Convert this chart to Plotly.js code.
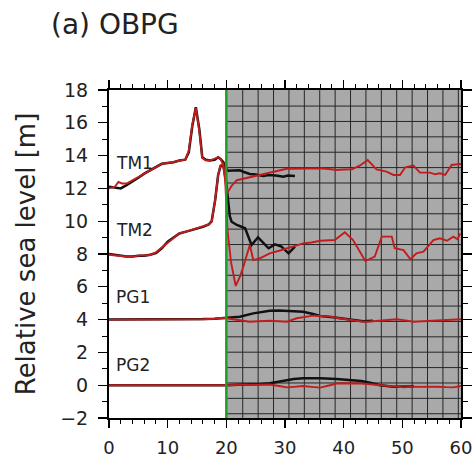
<!DOCTYPE html>
<html>
<head>
<meta charset="utf-8">
<script src="https://cdn.plot.ly/plotly-3.0.1.min.js"></script>
<style>html,body{margin:0;padding:0;background:#fff;}#chart{width:472px;height:458px;}</style>
</head>
<body>
<div id="chart"></div>
<script>
// ---- Data (time [min], relative sea level [m], offset per station) ----
var tm1ObsX = [0, 1, 2, 3, 4, 5, 6, 7, 8, 9, 10, 11, 12, 13, 13.6, 14.2, 14.8, 15.4, 15.9, 16.5, 17.2, 18.0, 18.6, 19.0, 19.5, 20.0, 20.3, 21, 22.3, 23, 24.0, 25, 26.3, 27, 28.0, 29, 29.7, 30.5, 31.7];
var tm1ObsY = [12.1, 12.05, 12.0, 12.2, 12.4, 12.65, 12.9, 13.1, 13.35, 13.5, 13.55, 13.6, 13.7, 13.75, 14.2, 15.8, 16.95, 15.6, 13.9, 13.75, 13.7, 13.75, 13.9, 13.8, 13.6, 13.2, 13.08, 13.1, 13.1, 13.0, 12.88, 12.85, 12.76, 12.8, 12.8, 12.75, 12.71, 12.78, 12.76];
var tm1SimX = [0, 1, 1.6, 2.2, 3, 4, 5, 6, 7, 8, 9, 10, 11, 12, 13, 13.6, 14.2, 14.8, 15.4, 15.9, 16.5, 17.2, 18.0, 18.6, 19.0, 19.4, 19.7, 20.0, 20.3, 21.0, 21.8, 23, 24.6, 26, 27.4, 29, 30.3, 31.5, 33.1, 34.5, 36.0, 37.5, 38.8, 40, 41.4, 42.8, 44.1, 45.6, 47.3, 48.5, 49.6, 50.5, 51.9, 53.0, 54.7, 55.6, 56.4, 57.3, 58.4, 59.8, 60];
var tm1SimY = [12.0, 12.1, 12.4, 12.3, 12.3, 12.5, 12.7, 12.9, 13.1, 13.35, 13.5, 13.55, 13.6, 13.7, 13.75, 14.3, 15.9, 16.9, 15.5, 13.85, 13.7, 13.7, 13.8, 13.9, 13.8, 13.5, 12.8, 12.0, 11.8, 12.2, 12.5, 12.6, 12.7, 12.85, 12.96, 13.1, 13.2, 13.2, 13.22, 13.2, 13.22, 13.18, 13.12, 13.15, 13.16, 13.4, 13.73, 13.16, 13.02, 12.82, 12.82, 13.29, 13.39, 12.96, 12.96, 12.86, 12.92, 12.82, 13.43, 13.49, 13.45];

var tm2ObsX = [0, 1, 2, 3, 4, 5, 6, 7, 8, 9, 10, 11, 12, 13, 14, 15, 16, 17, 17.5, 18.1, 18.6, 19.0, 19.5, 19.9, 20.3, 20.6, 20.9, 21.8, 23.2, 24.3, 25.4, 26.3, 27.2, 28.3, 29.4, 30.6, 31.7];
var tm2ObsY = [8.0, 7.95, 7.9, 7.85, 7.85, 7.9, 7.9, 7.95, 8.05, 8.35, 8.75, 9.0, 9.25, 9.35, 9.45, 9.55, 9.65, 9.8, 10.0, 11.3, 12.8, 13.35, 13.4, 12.6, 11.3, 10.3, 9.97, 9.77, 9.57, 8.55, 9.02, 8.69, 8.35, 8.59, 8.45, 8.04, 8.45];
var tm2SimX = [0, 1, 2, 3, 4, 5, 6, 7, 8, 9, 10, 11, 12, 13, 14, 15, 16, 17, 17.5, 18.1, 18.6, 19.0, 19.5, 19.8, 20.0, 20.2, 20.8, 21.6, 22.3, 22.9, 24.0, 24.6, 25.7, 27.4, 29, 30.3, 31.5, 33.1, 34.5, 36.0, 38.5, 40.2, 41.6, 42.8, 43.7, 45.3, 46.5, 48.2, 48.7, 50.2, 51.4, 52.4, 53.6, 55.3, 56.4, 57.6, 58.7, 59.4, 59.9];
var tm2SimY = [7.95, 7.9, 7.88, 7.85, 7.84, 7.9, 7.92, 7.94, 8.1, 8.4, 8.7, 9.0, 9.26, 9.35, 9.46, 9.55, 9.65, 9.8, 9.97, 11.3, 12.8, 13.4, 13.5, 12.5, 11.0, 9.46, 7.5, 6.05, 6.6, 7.23, 8.55, 7.63, 7.74, 8.04, 8.2, 8.35, 8.5, 8.65, 8.7, 8.81, 8.85, 9.32, 8.85, 8.14, 7.57, 7.84, 9.06, 9.06, 8.35, 8.24, 7.68, 8.04, 8.14, 8.85, 8.96, 8.81, 9.06, 8.9, 9.26];

var pg1ObsX = [0, 2, 4, 6, 8, 10, 12, 14, 16, 18, 19, 20, 21, 22.3, 24.6, 26, 27.4, 29, 30.3, 31.5, 33.1, 34.8, 36.0, 38.2, 40.5, 43.3, 45];
var pg1ObsY = [4.0, 4.0, 4.02, 4.0, 4.01, 4.0, 4.02, 4.01, 4.03, 4.05, 4.08, 4.08, 4.12, 4.18, 4.38, 4.48, 4.54, 4.55, 4.54, 4.52, 4.48, 4.34, 4.22, 4.14, 4.04, 3.9, 3.93];
var pg1SimX = [0, 2, 4, 6, 8, 10, 12, 14, 16, 18, 19, 20, 21, 22.3, 24.0, 25.5, 27.4, 29, 30.3, 32.0, 33.5, 34.8, 36, 37.7, 39, 40.5, 42, 43.3, 44.5, 46.2, 47.5, 49.0, 50.5, 51.9, 53.5, 55.3, 57, 58.7, 60];
var pg1SimY = [4.0, 4.0, 4.01, 4.0, 4.0, 4.01, 4.0, 4.01, 4.02, 4.05, 4.1, 4.08, 4.02, 3.98, 3.87, 3.9, 3.93, 3.9, 3.87, 4.08, 4.18, 4.24, 4.22, 4.18, 4.1, 4.02, 3.94, 3.87, 3.88, 3.93, 3.98, 4.02, 3.95, 3.87, 3.9, 3.93, 3.96, 3.98, 4.02];

var pg2ObsX = [0, 2, 4, 6, 8, 10, 12, 14, 16, 18, 20, 22, 24.6, 26, 27.4, 29, 30.3, 31.5, 33.1, 36.0, 38.8, 41.6, 43, 44.5, 46.2, 48.5, 50.8, 52];
var pg2ObsY = [0.0, 0.0, 0.01, 0.0, 0.0, 0.01, 0.0, 0.0, -0.03, -0.02, 0.0, 0.02, 0.04, 0.08, 0.12, 0.22, 0.32, 0.38, 0.42, 0.43, 0.38, 0.32, 0.25, 0.15, 0.0, -0.09, -0.09, -0.08];
var pg2SimX = [0, 2, 4, 6, 8, 10, 12, 14, 16, 18, 20, 22, 24.6, 27.4, 29, 30.3, 31.5, 33.1, 34.5, 36.0, 37.5, 38.8, 40, 41.6, 43, 44.5, 46, 47.3, 48.8, 50.2, 51.5, 53.0, 55.9, 57.5, 58.7, 60];
var pg2SimY = [0.0, 0.0, 0.0, 0.01, 0.0, 0.0, 0.0, -0.02, -0.03, -0.02, 0.0, 0.02, 0.03, 0.04, -0.05, -0.13, -0.1, -0.05, -0.1, -0.15, -0.02, 0.1, 0.12, 0.12, 0.1, 0.06, 0.0, -0.05, -0.1, -0.13, -0.1, -0.09, -0.09, -0.12, -0.13, -0.05];

var stationNames = ['TM1', 'TM2', 'PG1', 'PG2'];
var stationLabelY = [13.55, 9.45, 5.4, 1.25];
var eventTime = 20;
var xTickVals = [0, 10, 20, 30, 40, 50, 60];

// ---- Styling ----
var FONT = 'DejaVu Sans, Liberation Sans, Arial, sans-serif';
var OBS = '#111111', SIM = '#c21d1d';

function obs(x, y, n) { return {x: x, y: y, name: n + ' obs', type: 'scatter', mode: 'lines', line: {color: OBS, width: 2.5}, hoverinfo: 'skip'}; }
function sim(x, y, n) { return {x: x, y: y, name: n + ' sim', type: 'scatter', mode: 'lines', line: {color: SIM, width: 1.9}, hoverinfo: 'skip'}; }

var traces = [
  obs(tm1ObsX, tm1ObsY, 'TM1'), obs(tm2ObsX, tm2ObsY, 'TM2'), obs(pg1ObsX, pg1ObsY, 'PG1'), obs(pg2ObsX, pg2ObsY, 'PG2'),
  sim(tm1SimX, tm1SimY, 'TM1'), sim(tm2SimX, tm2SimY, 'TM2'), sim(pg1SimX, pg1SimY, 'PG1'), sim(pg2SimX, pg2SimY, 'PG2')
];

// shaded region after the event, with its hatch grid
var shapes = [{type: 'rect', xref: 'x', yref: 'paper', x0: eventTime, x1: 60, y0: 0, y1: 1, fillcolor: '#a9a9a9', line: {width: 0}, layer: 'below'}];
var gx0 = 20.17, gdx = 2.625, gy0 = 17.02, gdy = 0.938;
for (var k = 1; gx0 + k * gdx < 60; k++) {
  shapes.push({type: 'line', xref: 'x', yref: 'paper', x0: gx0 + k * gdx, x1: gx0 + k * gdx, y0: 0, y1: 1, line: {color: '#262626', width: 1}, layer: 'below'});
}
for (var j = 0; gy0 - j * gdy > -2; j++) {
  shapes.push({type: 'line', xref: 'x', yref: 'y', x0: eventTime, x1: 60, y0: gy0 - j * gdy, y1: gy0 - j * gdy, line: {color: '#262626', width: 1}, layer: 'below'});
}
shapes.push({type: 'line', xref: 'x', yref: 'paper', x0: eventTime, x1: eventTime, y0: 0, y1: 1, line: {color: '#1f9e2a', width: 2.5}, layer: 'above'});

var annotations = stationNames.map(function (n, i) {
  return {text: n, x: 0.9, y: stationLabelY[i], xref: 'x', yref: 'y', xanchor: 'left', yanchor: 'middle', showarrow: false, font: {family: FONT, size: 17, color: '#222'}};
});

var axisCommon = {
  showgrid: false, zeroline: false, showline: true, linecolor: '#000', linewidth: 2, mirror: 'ticks',
  ticks: 'outside', tickcolor: '#000', tickwidth: 1.3, fixedrange: true, ticklabeloverflow: 'allow',
  tickfont: {family: FONT, size: 19, color: '#222'}
};

var layout = {
  width: 472, height: 458,
  margin: {l: 109, r: 11, t: 90, b: 40},
  paper_bgcolor: '#fff', plot_bgcolor: '#fff',
  showlegend: false,
  font: {family: FONT, color: '#222'},
  title: {text: '(a) OBPG', x: 0.108, xanchor: 'left', y: 0.948, yanchor: 'middle', font: {family: FONT, size: 28, color: '#222'}},
  xaxis: Object.assign({}, axisCommon, {range: [0, 60], tickvals: xTickVals, ticklen: 8, ticklabelstandoff: 4,
    tickfont: {family: FONT, size: 18, color: '#222'},
    minor: {dtick: 2, ticks: 'outside', ticklen: 4, tickcolor: '#000', tickwidth: 1}}),
  yaxis: Object.assign({}, axisCommon, {range: [-2, 18], dtick: 2, ticklen: 9, ticklabelstandoff: 6,
    minor: {dtick: 1, ticks: 'outside', ticklen: 5, tickcolor: '#000', tickwidth: 1},
    title: {text: 'Relative sea level [m]', standoff: 17, font: {family: FONT, size: 26, color: '#222'}}}),
  shapes: shapes,
  annotations: annotations
};

Plotly.newPlot('chart', traces, layout, {staticPlot: true, displayModeBar: false});
</script>
</body>
</html>
